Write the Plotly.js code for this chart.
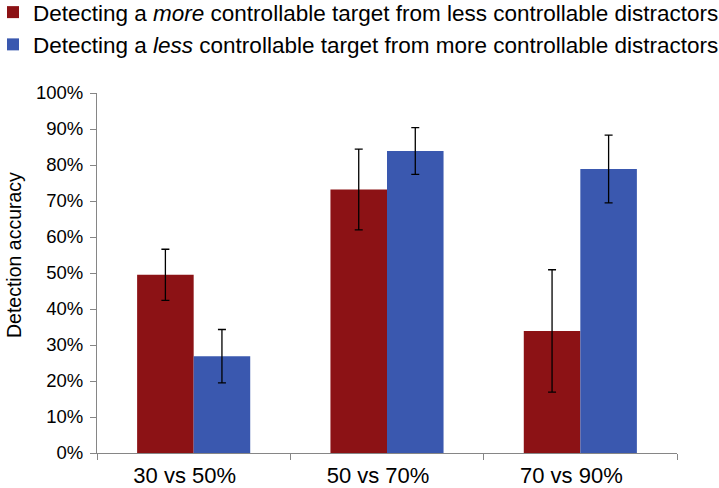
<!DOCTYPE html>
<html>
<head>
<meta charset="utf-8">
<script src="https://cdn.plot.ly/plotly-3.0.1.min.js"></script>
<style>html,body{margin:0;padding:0;background:#fff}#chart{width:719px;height:488px}</style>
</head>
<body>
<div id="chart"></div>
<script>
const categories = ["30 vs 50%", "50 vs 70%", "70 vs 90%"];
const seriesNames = [
  "Detecting a <i>more</i> controllable target from less controllable distractors",
  "Detecting a <i>less</i> controllable target from more controllable distractors"
];
const moreValues = [0.495, 0.732, 0.339];
const moreErrors = [0.071, 0.112, 0.170];
const lessValues = [0.269, 0.839, 0.789];
const lessErrors = [0.074, 0.065, 0.094];
const yTickVals = [0, 0.1, 0.2, 0.3, 0.4, 0.5, 0.6, 0.7, 0.8, 0.9, 1.0];
const yTickText = ["0%", "10%", "20%", "30%", "40%", "50%", "60%", "70%", "80%", "90%", "100%"];
const yTitle = "Detection accuracy";

const colors = ["#8c1215", "#3a58af"];
const font = "Arial, 'Liberation Sans', sans-serif";

// plot area in pixels (for paper-coordinate conversion of legend / title)
const L = 97, R = 42, T = 93, B = 35, W = 719, H = 488;
const pw = W - L - R, ph = H - T - B;

function barTrace(name, y, err, color) {
  return {
    type: "bar", name: name, x: categories, y: y,
    marker: {color: color, line: {width: 0}},
    error_y: {type: "data", array: err, visible: true, color: "#000", thickness: 1.3, width: 4},
    hoverinfo: "none"
  };
}

const data = [
  barTrace(seriesNames[0], moreValues, moreErrors, colors[0]),
  barTrace(seriesNames[1], lessValues, lessErrors, colors[1])
];

const layout = {
  width: W, height: H,
  margin: {l: L, r: R, t: T, b: B, pad: 0, autoexpand: false},
  paper_bgcolor: "#fff", plot_bgcolor: "#fff",
  barmode: "group", bargap: 0.415, bargroupgap: 0,
  font: {family: font, color: "#000"},
  showlegend: true,
  legend: {
    xref: "paper", yref: "paper",
    x: (-7 - L) / pw, y: (H - B + 9) / ph,
    xanchor: "left", yanchor: "top",
    font: {family: font, size: 22.5, color: "#000"},
    tracegroupgap: 0, itemwidth: 30, bgcolor: "rgba(0,0,0,0)"
  },
  xaxis: {
    type: "category", showgrid: false, zeroline: false,
    showline: true, linecolor: "#868686", linewidth: 1,
    ticks: "outside", tickson: "boundaries", ticklen: 6, tickcolor: "#868686",
    tickfont: {family: font, size: 22, color: "#000"}, tickangle: 0,
    ticklabelstandoff: 3, ticklabelshift: -9,
    fixedrange: true
  },
  yaxis: {
    range: [0, 1], tickvals: yTickVals, ticktext: yTickText,
    showgrid: false, zeroline: false,
    showline: true, linecolor: "#868686", linewidth: 1,
    ticks: "outside", ticklen: 6, tickcolor: "#868686",
    tickfont: {family: font, size: 18.5, color: "#000"},
    ticklabelstandoff: 3,
    fixedrange: true
  },
  annotations: [{
    text: yTitle, xref: "paper", yref: "paper",
    x: (14 - L) / pw, y: (H - B - 255) / ph, xanchor: "center", yanchor: "middle",
    textangle: -90, showarrow: false,
    font: {family: font, size: 19.5, color: "#000"}
  }]
};

Plotly.newPlot("chart", data, layout, {displayModeBar: false, staticPlot: true});
</script>
</body>
</html>
